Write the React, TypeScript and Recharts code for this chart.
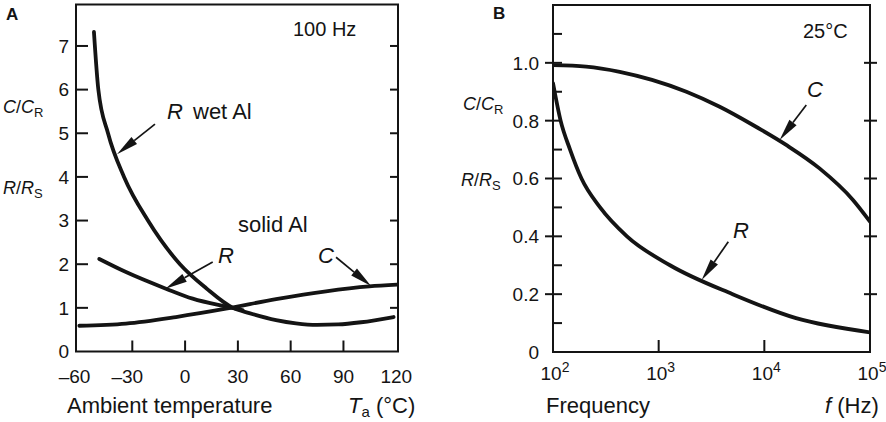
import React from 'react'
import { LineChart, Line, XAxis, YAxis, ReferenceArea, ReferenceLine } from 'recharts'

// ---- panel A: C/C_R and R/R_S vs ambient temperature (100 Hz) ----
const tempTicks = [-60, -30, 0, 30, 60, 90, 120]
const ratioTicksA = [0, 1, 2, 3, 4, 5, 6, 7]

const wetAlTemp = [-51.8, -49.3, -43.8, -34.7, -21.1, -2.9, 12, 27.2, 36.5, 51.7, 63, 75, 87, 100, 118.5]
const wetAlR = [7.32, 6.0, 5.0, 4.0, 3.0, 2.0, 1.45, 1.0, 0.88, 0.72, 0.645, 0.61, 0.62, 0.67, 0.79]

const solidAlRTemp = [-48.8, -33.6, -10.9, 4.3, 23.2, 32.7]
const solidAlR = [2.12, 1.82, 1.44, 1.21, 1.03, 0.95]

const solidAlCTemp = [-60.1, -33.6, -5.2, 23.2, 51.7, 80.1, 104.7, 120.5]
const solidAlC = [0.59, 0.64, 0.79, 0.98, 1.2, 1.38, 1.49, 1.53]

// ---- panel B: ratios vs frequency (25 °C) ----
const freqTicks = [100, 1000, 10000, 100000]
const ratioMajorB = [0, 0.2, 0.4, 0.6, 0.8, 1.0]
const ratioMinorB = [0.1, 0.3, 0.5, 0.7, 0.9, 1.1]

const cFreq = [100, 206, 428, 865, 1830, 3780, 7800, 16100, 33300, 69000, 100000]
const cRatio = [0.992, 0.987, 0.969, 0.941, 0.9, 0.848, 0.785, 0.716, 0.635, 0.526, 0.451]

const rFreq = [100, 118, 145, 186, 279, 501, 1280, 5010, 19950, 100000]
const rRatio = [0.93, 0.8, 0.7, 0.6, 0.5, 0.4, 0.3, 0.2, 0.117, 0.068]

// annotation arrows: [tailX, tailY, tipX, tipY]
const arrowsA = [
  [-17.1, 5.21, -38.7, 4.52],
  [15.7, 2.05, -11.2, 1.44],
  [85.8, 2.16, 105.7, 1.5],
]
const arrowsB = [
  [24950, 0.854, 13960, 0.733],
  [4560, 0.381, 2553, 0.249],
]

const wetR = wetAlTemp.map((t, i) => ({ t, v: wetAlR[i] }))
const solidR = solidAlRTemp.map((t, i) => ({ t, v: solidAlR[i] }))
const solidC = solidAlCTemp.map((t, i) => ({ t, v: solidAlC[i] }))
const capB = cFreq.map((f, i) => ({ f, v: cRatio[i] }))
const resB = rFreq.map((f, i) => ({ f, v: rRatio[i] }))

const font = 'Liberation Sans, Arial, Helvetica, sans-serif'
const ink = '#141414'

const A = { left: 76, top: 4.5, width: 322, height: 347 }
const B = { left: 113, top: 5, width: 317, height: 347 }

function Arrow(props: any) {
  const { x1, y1, x2, y2 } = props
  const dx = x2 - x1
  const dy = y2 - y1
  const len = Math.hypot(dx, dy) || 1
  const ux = dx / len
  const uy = dy / len
  const head = 22
  const half = 4.5
  const bx = x2 - ux * head
  const by = y2 - uy * head
  const pts = `${x2},${y2} ${bx - uy * half},${by + ux * half} ${bx + uy * half},${by - ux * half}`
  return (
    <g>
      <line x1={x1} y1={y1} x2={bx} y2={by} stroke={ink} strokeWidth={1.7} />
      <polygon points={pts} fill={ink} />
    </g>
  )
}

function TempTick({ x, y, payload }: any) {
  const v = payload.value
  const edge = v === tempTicks[0] || v === tempTicks[tempTicks.length - 1]
  const label = v < 0 ? `\u2013${Math.abs(v)}` : `${v}`
  return (
    <g>
      {!edge && <line x1={x} y1={y} x2={x} y2={y - 11} stroke={ink} strokeWidth={2} />}
      <text x={v < 0 ? x - 5 : x} y={y + 31} textAnchor="middle" fontSize={19} fontFamily={font} fill={ink}>
        {label}
      </text>
    </g>
  )
}

function RatioTickA({ x, y, payload }: any) {
  const v = payload.value
  return (
    <g>
      {v > 0 && <line x1={x} y1={y} x2={x + 12} y2={y} stroke={ink} strokeWidth={2} />}
      {v > 0 && <line x1={x + A.width - 8} y1={y} x2={x + A.width} y2={y} stroke={ink} strokeWidth={2} />}
      <text x={x - 7} y={y} dy="0.36em" textAnchor="end" fontSize={19} fontFamily={font} fill={ink}>
        {v}
      </text>
    </g>
  )
}

function FreqTick({ x, y, payload }: any) {
  const v = payload.value
  const exp = Math.round(Math.log10(v))
  const edge = v === freqTicks[0] || v === freqTicks[freqTicks.length - 1]
  return (
    <g>
      {!edge && <line x1={x} y1={y} x2={x} y2={y - 12} stroke={ink} strokeWidth={2} />}
      <text x={x + 2} y={y + 28} textAnchor="middle" fontSize={19} fontFamily={font} fill={ink}>
        10
        <tspan dy={-8} fontSize={14}>
          {exp}
        </tspan>
      </text>
    </g>
  )
}

function RatioTickB({ x, y, payload }: any) {
  const v = payload.value
  const major = ratioMajorB.includes(v)
  return (
    <g>
      {v > 0 && <line x1={major ? x - 8 : x} y1={y} x2={x + 9} y2={y} stroke={ink} strokeWidth={2} />}
      {v > 0 && major && <line x1={x + B.width - 6} y1={y} x2={x + B.width + 7} y2={y} stroke={ink} strokeWidth={2} />}
      {major && (
        <text x={x - 14} y={y} dy="0.36em" textAnchor="end" fontSize={19} fontFamily={font} fill={ink}>
          {v === 0 ? '0' : v.toFixed(1)}
        </text>
      )}
    </g>
  )
}

function PanelA() {
  return (
    <LineChart
      width={420}
      height={422}
      margin={{ top: A.top, right: 420 - A.left - A.width, bottom: 422 - A.top - A.height - 40, left: A.left - 40 }}
    >
      <XAxis
        dataKey="t"
        type="number"
        domain={[-62, 121]}
        allowDataOverflow
        ticks={tempTicks}
        interval={0}
        height={40}
        axisLine={false}
        tickLine={false}
        tickSize={0}
        tickMargin={0}
        tick={(p: any) => <TempTick {...p} />}
      />
      <YAxis
        type="number"
        domain={[0, 7.95]}
        allowDataOverflow
        ticks={ratioTicksA}
        interval={0}
        width={40}
        axisLine={false}
        tickLine={false}
        tickSize={0}
        tickMargin={0}
        tick={(p: any) => <RatioTickA {...p} />}
      />
      <ReferenceArea x1={-62} x2={121} y1={0} y2={7.95} fill="none" stroke={ink} strokeWidth={2} />
      <Line data={wetR} dataKey="v" type="monotone" stroke={ink} strokeWidth={3.8} dot={false} isAnimationActive={false} strokeLinecap="round" />
      <Line data={solidR} dataKey="v" type="monotone" stroke={ink} strokeWidth={3.8} dot={false} isAnimationActive={false} strokeLinecap="round" />
      <Line data={solidC} dataKey="v" type="monotone" stroke={ink} strokeWidth={3.8} dot={false} isAnimationActive={false} strokeLinecap="round" />
      {arrowsA.map((a, i) => (
        <ReferenceLine key={i} segment={[{ x: a[0], y: a[1] }, { x: a[2], y: a[3] }]} shape={(p: any) => <Arrow {...p} />} />
      ))}
    </LineChart>
  )
}

function PanelB() {
  const ticks = [...ratioMajorB, ...ratioMinorB].sort((a, b) => a - b)
  return (
    <LineChart
      width={446}
      height={422}
      margin={{ top: B.top, right: 446 - B.left - B.width, bottom: 422 - B.top - B.height - 40, left: B.left - 60 }}
    >
      <XAxis
        dataKey="f"
        type="number"
        scale="log"
        domain={[100, 100000]}
        allowDataOverflow
        ticks={freqTicks}
        interval={0}
        height={40}
        axisLine={false}
        tickLine={false}
        tickSize={0}
        tickMargin={0}
        tick={(p: any) => <FreqTick {...p} />}
      />
      <YAxis
        type="number"
        domain={[0, 1.2]}
        allowDataOverflow
        ticks={ticks}
        interval={0}
        width={60}
        axisLine={false}
        tickLine={false}
        tickSize={0}
        tickMargin={0}
        tick={(p: any) => <RatioTickB {...p} />}
      />
      <ReferenceArea x1={100} x2={100000} y1={0} y2={1.2} fill="none" stroke={ink} strokeWidth={2} />
      <Line data={capB} dataKey="v" type="monotone" stroke={ink} strokeWidth={3.8} dot={false} isAnimationActive={false} strokeLinecap="round" />
      <Line data={resB} dataKey="v" type="monotone" stroke={ink} strokeWidth={3.8} dot={false} isAnimationActive={false} strokeLinecap="round" />
      {arrowsB.map((a, i) => (
        <ReferenceLine key={i} segment={[{ x: a[0], y: a[1] }, { x: a[2], y: a[3] }]} shape={(p: any) => <Arrow {...p} />} />
      ))}
    </LineChart>
  )
}

function Ratio({ x, y, sym, sub }: { x: number; y: number; sym: string; sub: string }) {
  return (
    <text x={x} y={y} fontSize={18} fontFamily={font} fill={ink}>
      <tspan fontStyle="italic">{sym}</tspan>
      <tspan>/</tspan>
      <tspan fontStyle="italic">{sym}</tspan>
      <tspan fontSize={13} dy={4}>
        {sub}
      </tspan>
    </text>
  )
}

function Labels() {
  return (
    <svg width={886} height={422} style={{ position: 'absolute', left: 0, top: 0, pointerEvents: 'none' }}>
      <g fontFamily={font} fill={ink}>
        <text x={6} y={20} fontSize={17} fontWeight="bold">A</text>
        <text x={493} y={19} fontSize={17} fontWeight="bold">B</text>
        <text x={293} y={36} fontSize={20}>100 Hz</text>
        <text x={803} y={38} fontSize={20}>25°C</text>

        <Ratio x={3} y={113} sym="C" sub="R" />
        <Ratio x={3} y={194} sym="R" sub="S" />
        <Ratio x={463} y={110} sym="C" sub="R" />
        <Ratio x={461} y={186} sym="R" sub="S" />

        <text x={67} y={413} fontSize={22}>Ambient temperature</text>
        <text x={348} y={413} fontSize={22}>
          <tspan fontStyle="italic">T</tspan>
          <tspan fontSize={15} dy={4}>a</tspan>
          <tspan dy={-4}> (°C)</tspan>
        </text>
        <text x={546} y={413} fontSize={22}>Frequency</text>
        <text x={825} y={413} fontSize={22}>
          <tspan fontStyle="italic">f</tspan>
          <tspan> (Hz)</tspan>
        </text>

        <text x={167} y={119} fontSize={22} fontStyle="italic">R</text>
        <text x={193} y={119} fontSize={22}>wet Al</text>
        <text x={238} y={232} fontSize={22}>solid Al</text>
        <text x={218} y={263} fontSize={22} fontStyle="italic">R</text>
        <text x={318} y={263} fontSize={22} fontStyle="italic">C</text>
        <text x={807} y={97} fontSize={22} fontStyle="italic">C</text>
        <text x={733} y={238} fontSize={22} fontStyle="italic">R</text>
      </g>
    </svg>
  )
}

export default function App() {
  return (
    <div style={{ position: 'absolute', left: 0, top: 0, width: 886, height: 422, background: '#fff' }}>
      <div style={{ position: 'absolute', left: 0, top: 0 }}>
        <PanelA />
      </div>
      <div style={{ position: 'absolute', left: 440, top: 0 }}>
        <PanelB />
      </div>
      <Labels />
    </div>
  )
}
